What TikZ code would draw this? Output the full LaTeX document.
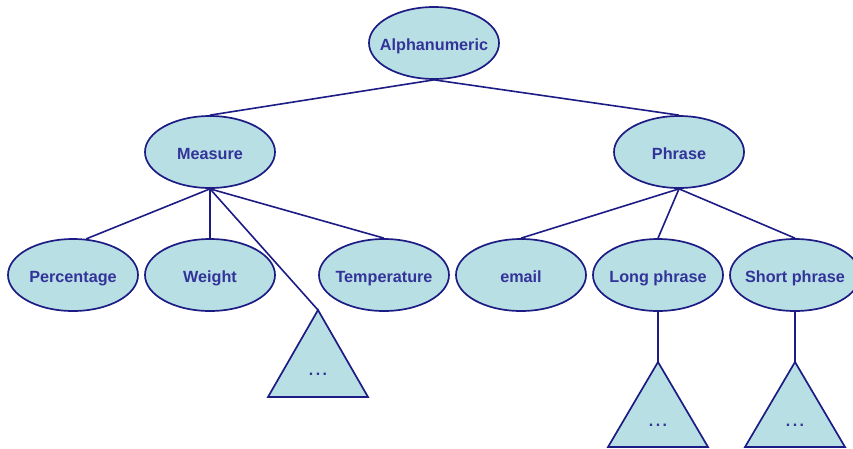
\documentclass[tikz,border=0pt]{standalone}
\usepackage{fontspec}
\setmainfont{Liberation Sans}
\usetikzlibrary{shapes.geometric}
\definecolor{nodefill}{RGB}{184,224,228}
\definecolor{edgeblue}{RGB}{28,28,132}
\definecolor{labelblue}{RGB}{51,51,153}
\tikzset{
  concept/.style={ellipse, draw=edgeblue, fill=nodefill, line width=1.7pt,
    minimum width=130pt, minimum height=72pt, inner sep=0pt,
    text height=16pt, text depth=0.4pt,
    execute at begin node={\hbox to 0pt\bgroup\hss},
    execute at end node={\hss\egroup},
    font=\fontsize{16.2}{19}\selectfont\bfseries, text=labelblue},
  link/.style={draw=edgeblue, line width=1.6pt},
  subtree/.style={draw=edgeblue, fill=nodefill, line width=1.7pt, line join=miter},
  more/.style={font=\fontsize{16}{19}\selectfont\bfseries, text=labelblue}
}
\begin{document}
\begin{tikzpicture}[x=1pt,y=-1pt]
\useasboundingbox (0,0) rectangle (853,448);
\clip (0,0) rectangle (853,448);

% concept nodes
\node[concept] (alpha) at (434,43) {Alphanumeric};
\node[concept] (measure) at (210,152) {Measure};
\node[concept] (phrase) at (679,152) {Phrase};
\node[concept] (pct) at (73,275) {Percentage};
\node[concept] (weight) at (210,275) {Weight};
\node[concept] (temp) at (384,275) {Temperature};
\node[concept] (email) at (521,275) {email};
\node[concept] (long) at (658,275) {Long phrase};
\node[concept] (short) at (795,275) {Short phrase};

% collapsed subtrees
\coordinate (tA) at (318,310);
\coordinate (tB) at (658,362);
\coordinate (tC) at (795,362);
\path[subtree] (tA) -- (368,397) -- (268,397) -- cycle;
\path[subtree] (tB) -- (708,447) -- (608,447) -- cycle;
\path[subtree] (tC) -- (845,447) -- (745,447) -- cycle;
\node[more] (dA) at (318,374) {.\kern2.5pt.\kern2.5pt.};
\node[more] (dB) at (658,425) {.\kern2.5pt.\kern2.5pt.};
\node[more] (dC) at (795,425) {.\kern2.5pt.\kern2.5pt.};

% connectors
\draw[link] (alpha.south) -- (measure.north);
\draw[link] (alpha.south) -- (phrase.north);
\draw[link] (measure.south) -- (pct.70);
\draw[link] (measure.south) -- (weight.north);
\draw[link] (measure.south) -- (tA);
\draw[link] (measure.south) -- (temp.north);
\draw[link] (phrase.south) -- (email.north);
\draw[link] (phrase.south) -- (long.north);
\draw[link] (phrase.south) -- (short.north);
\draw[link] (long.south) -- (tB);
\draw[link] (short.south) -- (tC);
\end{tikzpicture}
\end{document}
